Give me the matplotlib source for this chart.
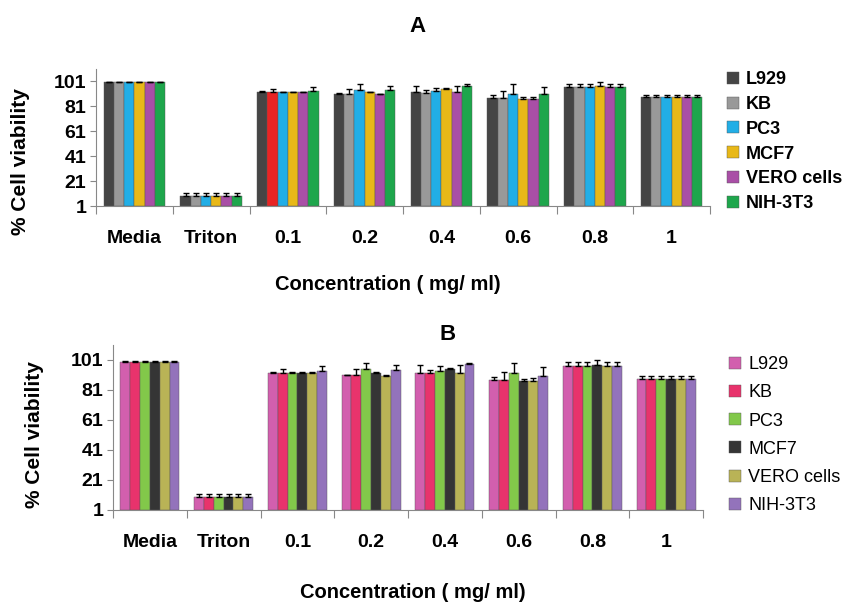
import numpy as np
import matplotlib
matplotlib.use('Agg')
import matplotlib.pyplot as plt

plt.rcParams['font.family'] = ['Liberation Sans', 'DejaVu Sans']

# categories and series
categories = ['Media', 'Triton', '0.1', '0.2', '0.4', '0.6', '0.8', '1']
cells = ['L929', 'KB', 'PC3', 'MCF7', 'VERO cells', 'NIH-3T3']

# panel A values (% cell viability), one list per cell line
a_L929 = [100, 9, 92, 91, 92.2, 87.7, 96.5, 88.2]
a_KB   = [100, 9, 92, 91, 91.7, 87.4, 96.5, 88.2]
a_PC3  = [100, 9, 92, 93.8, 93, 90.9, 96.5, 88.2]
a_MCF7 = [100, 9, 92, 92, 94.9, 86.6, 97.3, 88.2]
a_VERO = [100, 9, 92, 90.3, 92.2, 86.6, 96.5, 88.2]
a_NIH  = [100, 9, 93.3, 93.5, 97, 90.3, 96.5, 88.2]
# panel A error (upper only)
a_L929_err = [0.5, 2.4, 1.0, 0.5, 4.5, 1.9, 2.0, 1.6]
a_KB_err   = [0.5, 2.4, 2.7, 3.5, 2.0, 6.0, 2.0, 1.6]
a_PC3_err  = [0.5, 2.4, 0.5, 5.0, 2.5, 8.0, 2.0, 1.6]
a_MCF7_err = [0.5, 2.4, 0.5, 0.5, 0.5, 2.0, 3.0, 1.6]
a_VERO_err = [0.5, 2.4, 0.5, 0.5, 4.8, 2.0, 2.0, 1.6]
a_NIH_err  = [0.5, 2.4, 2.7, 3.7, 2.0, 5.6, 2.0, 1.6]

# panel B values
b_L929 = [100, 9.8, 92.1, 91, 92.4, 87.7, 97.2, 88.2]
b_KB   = [100, 9.8, 92.1, 91.3, 92.4, 87.7, 97.2, 88.2]
b_PC3  = [100, 9.8, 92.1, 95, 93.7, 92.1, 97.2, 88.2]
b_MCF7 = [100, 9.8, 92.1, 92.1, 95.2, 86.8, 97.9, 88.2]
b_VERO = [100, 9.8, 92.1, 90.6, 92.4, 87.3, 97.2, 88.2]
b_NIH  = [100, 9.8, 93.5, 94.4, 98.1, 90.6, 97.2, 88.2]
b_L929_err = [0.3, 2.0, 1.1, 0.3, 5.0, 1.8, 2.4, 2.2]
b_KB_err   = [0.3, 2.0, 3.0, 3.8, 2.2, 5.5, 2.4, 2.2]
b_PC3_err  = [0.3, 2.0, 1.1, 4.0, 3.0, 7.0, 2.4, 2.2]
b_MCF7_err = [0.3, 2.0, 1.1, 1.1, 0.5, 1.5, 3.0, 2.2]
b_VERO_err = [0.3, 2.0, 1.1, 0.3, 5.0, 1.5, 2.4, 2.2]
b_NIH_err  = [0.3, 2.0, 3.3, 3.5, 1.0, 6.0, 2.4, 2.2]

yticks = [1, 21, 41, 61, 81, 101]

colors_a = ['#454545', '#999999', '#22aee6', '#e8b818', '#a94fa6', '#1ea64c']
colors_b = ['#d25fae', '#e8336c', '#82c84a', '#353535', '#b9b356', '#9373bb']


def draw(ax, vals, errs, colors, red_idx=None):
    x = np.arange(len(categories))
    w = 0.8 / 6
    for i, (v, e) in enumerate(zip(vals, errs)):
        pos = x - 0.4 + w * (i + 0.5)
        cols = [colors[i]] * len(categories)
        if red_idx is not None and i == 1:
            cols[red_idx] = '#e82424'   # KB bar at 0.1 is red in panel A
        ax.bar(pos, np.array(v) - 1, w, bottom=1, color=cols,
               edgecolor='#555555', linewidth=0.3, label=cells[i], zorder=2)
        ax.errorbar(pos, v, yerr=[np.zeros(len(e)), e], fmt='none',
                    ecolor='black', elinewidth=1, capsize=2.5, capthick=1, zorder=3)
    ax.set_xlim(-0.5, len(categories) - 0.5)
    ax.set_ylim(1, 111)
    ax.set_yticks(yticks)
    ax.set_yticklabels([str(t) for t in yticks], fontsize=14, fontweight='bold')
    # group boundaries as major ticks, labels on minor ticks
    ax.set_xticks(np.arange(len(categories) + 1) - 0.5)
    ax.set_xticklabels([])
    ax.set_xticks(x, minor=True)
    ax.set_xticklabels(categories, minor=True, fontsize=14, fontweight='bold')
    ax.tick_params(axis='x', which='major', length=6, color='#888888', direction='out')
    ax.tick_params(axis='x', which='minor', length=0, pad=17)
    ax.tick_params(axis='y', length=4, color='#888888', pad=3)
    for s in ['top', 'right']:
        ax.spines[s].set_visible(False)
    for s in ['left', 'bottom']:
        ax.spines[s].set_color('#888888')


W, H = 846, 604
fig = plt.figure(figsize=(W / 100, H / 100), dpi=100)

# panel A
axA = fig.add_axes([96 / W, 1 - 206 / H, (710 - 96) / W, (206 - 68.5) / H])
draw(axA, [a_L929, a_KB, a_PC3, a_MCF7, a_VERO, a_NIH],
     [a_L929_err, a_KB_err, a_PC3_err, a_MCF7_err, a_VERO_err, a_NIH_err],
     colors_a, red_idx=2)
fig.text(417 / W, 1 - 27 / H, 'A', fontsize=16, fontweight='bold', ha='center', va='center')
fig.text(388 / W, 1 - 284 / H, 'Concentration ( mg/ ml)', fontsize=14.5, fontweight='bold',
         ha='center', va='center')
fig.text(20 / W, 1 - 162 / H, '% Cell viability', fontsize=15, fontweight='bold',
         rotation=90, ha='center', va='center')
fig.legend(*axA.get_legend_handles_labels(), loc='upper left',
           bbox_to_anchor=(720 / W, 1 - 64 / H), frameon=False,
           prop={'size': 13, 'weight': 'bold'}, handlelength=0.65, handleheight=0.65,
           handletextpad=0.4, labelspacing=0.43, borderaxespad=0)

# panel B
axB = fig.add_axes([113 / W, 1 - 510 / H, (703 - 113) / W, (510 - 345) / H])
draw(axB, [b_L929, b_KB, b_PC3, b_MCF7, b_VERO, b_NIH],
     [b_L929_err, b_KB_err, b_PC3_err, b_MCF7_err, b_VERO_err, b_NIH_err],
     colors_b)
fig.text(448 / W, 1 - 335 / H, 'B', fontsize=16, fontweight='bold', ha='center', va='center')
fig.text(413 / W, 1 - 593 / H, 'Concentration ( mg/ ml)', fontsize=14.5, fontweight='bold',
         ha='center', va='center')
fig.text(35 / W, 1 - 435 / H, '% Cell viability', fontsize=15, fontweight='bold',
         rotation=90, ha='center', va='center')
fig.legend(*axB.get_legend_handles_labels(), loc='upper left',
           bbox_to_anchor=(722 / W, 1 - 349 / H), frameon=False,
           prop={'size': 13}, handlelength=0.65, handleheight=0.65,
           handletextpad=0.4, labelspacing=0.62, borderaxespad=0)

fig.savefig('out.png', dpi=100)
